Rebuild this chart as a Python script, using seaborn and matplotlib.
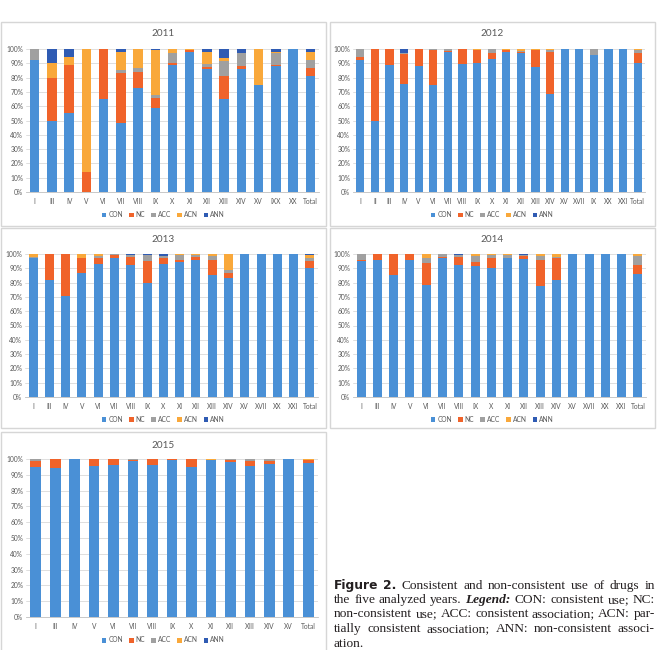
import matplotlib
matplotlib.use('Agg')
import matplotlib.pyplot as plt
import seaborn as sns
import pandas as pd
import numpy as np
from matplotlib.patches import Rectangle, Patch
from matplotlib.font_manager import FontProperties

# ---------------- data ----------------
series_names = ['CON', 'NC', 'ACC', 'ACN', 'ANN']

cats_2011 = ['I', 'III', 'IV', 'V', 'VI', 'VII', 'VIII', 'IX', 'X', 'XI', 'XII', 'XIII', 'XIV', 'XV', 'IXX', 'XX', 'Total']
con_2011 = [92, 50, 55, 0, 65, 48, 73, 59, 88.5, 98, 86, 65, 86, 75, 88, 100, 81]
nc_2011 = [0, 30, 34, 14, 35, 35, 11, 7, 1.5, 1, 1.5, 16, 2, 0, 0.5, 0, 6]
acc_2011 = [8, 0, 0, 0, 0, 2, 2.5, 2, 7.5, 0, 2, 10.5, 9.5, 0, 9, 0, 5]
acn_2011 = [0, 10, 5.5, 86, 0, 13, 13.5, 31, 2.5, 1, 8.5, 2.5, 0, 25, 0.5, 0, 6]
ann_2011 = [0, 10, 5.5, 0, 0, 2, 0, 1, 0, 0, 2, 6, 2.5, 0, 2, 0, 2]

cats_2012 = ['I', 'II', 'III', 'IV', 'V', 'VI', 'VII', 'VIII', 'IX', 'X', 'XI', 'XII', 'XIII', 'XIV', 'XV', 'XVII', 'IX', 'XX', 'XXI', 'Total']
con_2012 = [92, 50, 88.5, 75.5, 88, 74.5, 98, 89.5, 90.5, 93, 98, 97, 87.5, 68.5, 100, 100, 95.5, 100, 100, 90.5]
nc_2012 = [2.5, 50, 11.5, 21, 12, 24.5, 0.5, 10.5, 9, 4, 1, 1, 12, 29.5, 0, 0, 0.5, 0, 0, 7]
acc_2012 = [5.5, 0, 0, 0.5, 0, 1, 1.5, 0, 0, 3, 0, 0.5, 0, 1, 0, 0, 4, 0, 0, 2]
acn_2012 = [0, 0, 0, 0, 0, 0, 0, 0, 0.5, 0, 1, 1.5, 0.5, 1, 0, 0, 0, 0, 0, 0.5]
ann_2012 = [0, 0, 0, 3, 0, 0, 0, 0, 0, 0, 0, 0, 0, 0, 0, 0, 0, 0, 0, 0]

cats_2013 = ['I', 'III', 'IV', 'V', 'VI', 'VII', 'VIII', 'IX', 'X', 'XI', 'XII', 'XIII', 'XIV', 'XV', 'XVII', 'XX', 'XXI', 'Total']
con_2013 = [97, 81.5, 70.5, 87, 93, 97.5, 92.5, 79.5, 93, 94.5, 96, 85.5, 83.5, 100, 100, 100, 100, 90.5]
nc_2013 = [0, 18.5, 29.5, 10, 4.5, 1.5, 5.5, 15.5, 4.5, 1.5, 2, 10, 3, 0, 0, 0, 0, 4.5]
acc_2013 = [1, 0, 0, 0, 1, 1, 1.5, 4, 1, 3, 1, 3, 2, 0, 0, 0, 0, 2.5]
acn_2013 = [2, 0, 0, 3, 1.5, 0, 0, 0, 0, 1, 1, 1.5, 11.5, 0, 0, 0, 0, 2]
ann_2013 = [0, 0, 0, 0, 0, 0, 0.5, 1, 1.5, 0, 0, 0, 0, 0, 0, 0, 0, 0.5]

cats_2014 = ['I', 'III', 'IV', 'V', 'VI', 'VII', 'VIII', 'IX', 'X', 'XI', 'XII', 'XIII', 'XIV', 'XV', 'XVII', 'XX', 'XXI', 'Total']
con_2014 = [95, 96, 85, 96, 78.5, 97.5, 92, 91.5, 90.5, 97, 96.5, 77.5, 82, 100, 100, 100, 100, 86]
nc_2014 = [1, 4, 15, 4, 15.5, 0.5, 6, 3, 6.5, 0, 2, 18.5, 15, 0, 0, 0, 0, 6]
acc_2014 = [4, 0, 0, 0, 3.5, 2, 1.5, 4, 2, 2, 1, 2.5, 1, 0, 0, 0, 0, 6.5]
acn_2014 = [0, 0, 0, 0, 2.5, 0, 0, 1.5, 1, 1, 0, 1.5, 2, 0, 0, 0, 0, 1.5]
ann_2014 = [0, 0, 0, 0, 0, 0, 0.5, 0, 0, 0, 0.5, 0, 0, 0, 0, 0, 0, 0]

cats_2015 = ['I', 'III', 'IV', 'V', 'VI', 'VII', 'VIII', 'IX', 'X', 'XI', 'XII', 'XIII', 'XIV', 'XV', 'Total']
con_2015 = [95, 94, 100, 95.5, 96, 99, 96.5, 99.5, 95, 99.5, 98, 95.5, 97, 100, 97.5]
nc_2015 = [4, 6, 0, 4.5, 4, 0.5, 3.5, 0.5, 5, 0, 1.5, 3.5, 1.5, 0, 2]
acc_2015 = [1, 0, 0, 0, 0, 0.5, 0, 0, 0, 0, 0.5, 1, 1.5, 0, 0]
acn_2015 = [0, 0, 0, 0, 0, 0, 0, 0, 0, 0.5, 0, 0, 0, 0, 0.5]
ann_2015 = [0, 0, 0, 0, 0, 0, 0, 0, 0, 0, 0, 0, 0, 0, 0]

# ---------------- style ----------------
sns.set_theme(style='white')
plt.rcParams['font.family'] = ['Lato', 'DejaVu Sans']

colors = ['#4A90D6', '#F0632A', '#A0A0A0', '#F9A83A', '#2F5BB3']
txt_grey = '#595959'
grid_grey = '#D9D9D9'

W, H = 658, 650
fig = plt.figure(figsize=(W / 100, H / 100), dpi=100)


def fx(x):
    return x / W


def fy(y):
    return 1 - y / H


# year, cats, values, axes px (x0, x1, ytop, ybot), frame (x0, y0, x1, y1), title y, legend y
panels = [
    ('2011', cats_2011, [con_2011, nc_2011, acc_2011, acn_2011, ann_2011], (26, 319, 49, 192), (1, 22, 326, 226), 34, 215),
    ('2012', cats_2012, [con_2012, nc_2012, acc_2012, acn_2012, ann_2012], (353, 645, 49, 192), (330, 22, 655, 226), 34, 215),
    ('2013', cats_2013, [con_2013, nc_2013, acc_2013, acn_2013, ann_2013], (25, 318, 254, 397), (1, 228, 326, 428), 240, 419),
    ('2014', cats_2014, [con_2014, nc_2014, acc_2014, acn_2014, ann_2014], (353, 646, 254, 397), (330, 228, 655, 428), 240, 419),
    ('2015', cats_2015, [con_2015, nc_2015, acc_2015, acn_2015, ann_2015], (26, 318, 459, 617), (1, 432, 326, 652), 445, 640),
]

for year, cats, vals, (x0, x1, yt, yb), (fx0, fy0, fx1, fy1), ty, ly in panels:
    # panel frame
    fig.patches.append(Rectangle((fx(fx0), fy(fy1)), fx(fx1) - fx(fx0), fy(fy0) - fy(fy1),
                                 transform=fig.transFigure, fill=False,
                                 edgecolor='#D6D6D6', linewidth=1.0, zorder=0))
    ax = fig.add_axes([fx(x0), fy(yb), fx(x1) - fx(x0), fy(yt) - fy(yb)])
    n = len(cats)
    arr = np.array(vals, dtype=float)
    cum = np.cumsum(arr, axis=0)
    for k in reversed(range(5)):
        df = pd.DataFrame({'pos': list(range(n)), 'val': cum[k]})
        sns.barplot(data=df, x='pos', y='val', color=colors[k], saturation=1,
                    width=0.55, errorbar=None, ax=ax, linewidth=0)
    ax.set_xlim(-0.5, n - 0.5)
    ax.set_ylim(0, 100)
    ax.set_yticks(range(0, 101, 10))
    ax.set_yticklabels([f'{v}%' for v in range(0, 101, 10)])
    ax.set_xticks(range(n))
    ax.set_xticklabels(cats)
    ax.set_xlabel('')
    ax.set_ylabel('')
    ax.set_axisbelow(True)
    ax.yaxis.grid(True, color=grid_grey, linewidth=0.6)
    ax.xaxis.grid(False)
    for s in ['top', 'right', 'left']:
        ax.spines[s].set_visible(False)
    ax.spines['bottom'].set_color('#BFBFBF')
    ax.spines['bottom'].set_linewidth(0.6)
    ax.tick_params(axis='both', length=0, labelsize=4.8, colors=txt_grey)
    ax.tick_params(axis='x', pad=4)
    ax.tick_params(axis='y', pad=2)
    ax.set_facecolor('white')
    cx = (fx0 + fx1) / 2
    fig.text(fx(cx), fy(ty), year, ha='center', va='center', fontsize=7.2, color=txt_grey)
    handles = [Patch(facecolor=c, edgecolor='none', label=s) for c, s in zip(colors, series_names)]
    ax.legend(handles=handles, loc='center', bbox_to_anchor=(fx(cx), fy(ly)),
              bbox_transform=fig.transFigure, ncol=5, frameon=False, fontsize=4.8,
              handlelength=0.7, handleheight=0.7, handletextpad=0.3, columnspacing=0.9,
              labelcolor=txt_grey, borderpad=0)

# ---------------- caption (justified) ----------------
serif = FontProperties(family='Liberation Serif', size=9.6)
serif_bi = FontProperties(family='Liberation Serif', size=9.6, weight='bold', style='italic')
sans_b = FontProperties(family='DejaVu Sans', size=8.8, weight='bold')

lines = [
    ([('Figure', sans_b), ('2.', sans_b)] + [(w, serif) for w in 'Consistent and non-consistent use of drugs in'.split()], True),
    ([(w, serif) for w in 'the five analyzed years.'.split()] + [('Legend:', serif_bi)] +
     [(w, serif) for w in 'CON: consistent use; NC:'.split()], True),
    ([(w, serif) for w in 'non-consistent use; ACC: consistent association; ACN: par-'.split()], True),
    ([(w, serif) for w in 'tially consistent association; ANN: non-consistent associ-'.split()], True),
    ([(w, serif) for w in 'ation.'.split()], False),
]
baselines = [589, 603, 617, 632, 647]
cap_x0, cap_x1 = 334, 655

renderer = fig.canvas.get_renderer()
for (words, justify), yb in zip(lines, baselines):
    items = []
    for w, fp in words:
        t = fig.text(0, fy(yb), w, fontproperties=fp, ha='left', va='baseline', color='#231F20')
        items.append(t)
    widths = [t.get_window_extent(renderer).width for t in items]
    if justify and len(items) > 1:
        gap = (cap_x1 - cap_x0 - sum(widths)) / (len(items) - 1)
        gap = max(gap, 1.5)
    else:
        gap = 2.8
    x = cap_x0
    for t, wd in zip(items, widths):
        t.set_x(fx(x))
        x += wd + gap

fig.savefig('out.png', dpi=100, facecolor='white')
